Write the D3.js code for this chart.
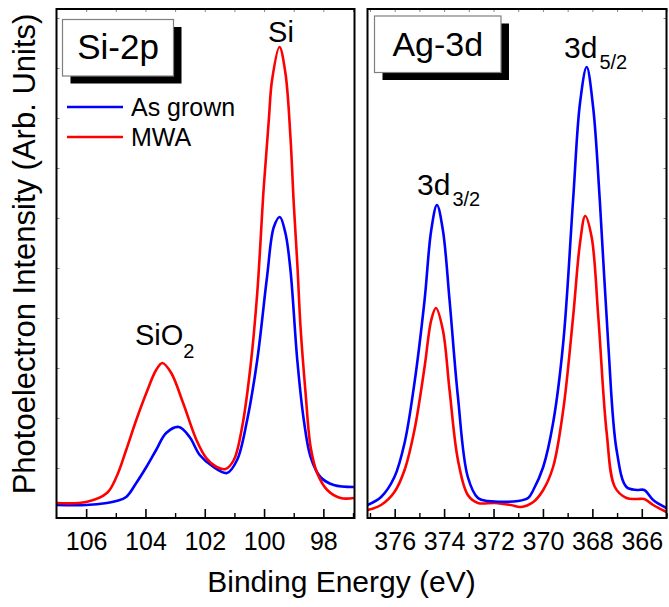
<!DOCTYPE html>
<html>
<head>
<meta charset="utf-8">
<script src="https://cdn.jsdelivr.net/npm/d3@7"></script>
<style>
  body {
    margin: 0;
    background: #fff;
  }
  svg text {
    font-family: "Liberation Sans", Arial, sans-serif;
    fill: #000;
  }
</style>
</head>
<body>
<svg id="chart" width="669" height="607"></svg>
<script>
  // Si-2p region, binding energy (eV) and intensity (arb. units)
  const siEnergyMWA = [107, 106, 105.3, 104.98, 104.65, 104.31, 103.97, 103.64, 103.43, 103.13, 102.73, 102.28,
    101.95, 101.6, 101.3, 101.02, 100.74, 100.46, 100.23, 100.01, 99.84, 99.73, 99.48, 99.28, 99.11, 99.0,
    98.88, 98.77, 98.6, 98.43, 98.21, 97.87, 97.42, 96.97];
  const siMWA = [15, 16, 25, 41, 68, 98, 125, 148, 155, 145, 115, 78,
    60, 51, 49, 58, 91, 151, 225, 331, 398, 438, 471, 445, 381, 315,
    255, 191, 125, 71, 45, 28, 20, 20];

  const siEnergyGrown = [107, 106, 105.3, 104.98, 104.65, 104.31, 103.97, 103.64, 103.3, 102.87, 102.51, 102.17,
    101.75, 101.25, 100.91, 100.57, 100.23, 99.9, 99.67, 99.47, 99.28, 99.11, 98.88, 98.66, 98.43, 98.1,
    97.65, 96.97];
  const siGrown = [13, 13, 15, 17, 21, 35, 51, 68, 85, 91, 81, 63,
    52, 45, 58, 98, 158, 241, 291, 301, 285, 248, 158, 98, 61, 41,
    33, 31];

  // Ag-3d region
  const agEnergyGrown = [377.1, 376.55, 376.01, 375.6, 375.2, 374.79, 374.52, 374.29, 374.05, 373.78, 373.44,
    373.04, 372.63, 372.23, 371.0, 370.6, 370.39, 369.99, 369.59, 369.18, 368.78, 368.5, 368.23, 367.97,
    367.7, 367.36, 367.02, 366.62, 366.2, 365.9, 365.54, 365.0];
  const agGrown = [13, 21, 41, 75, 135, 218, 288, 313, 288, 218, 121,
    41, 20, 17, 17, 20, 28, 51, 95, 175, 318, 415, 451, 411,
    318, 175, 68, 31, 28, 28, 18, 10];

  const agEnergyMWA = [377.1, 376.55, 376.01, 375.6, 375.2, 374.79, 374.52, 374.33, 374.05, 373.78, 373.44,
    373.04, 372.63, 371.96, 371.3, 370.9, 370.39, 369.99, 369.59, 369.18, 368.78, 368.5, 368.29, 368.03,
    367.76, 367.42, 367.09, 366.62, 366.2, 365.9, 365.54, 365.0];
  const agMWA = [8, 13, 26, 48, 88, 151, 198, 210, 188, 128, 58,
    23, 15, 15, 13, 11, 16, 28, 51, 108, 201, 275, 302, 281,
    201, 85, 31, 20, 19, 19, 13, 6];

  const seriesNames = ['As grown', 'MWA'];
  const seriesColors = ['#0000ff', '#ff0000'];

  const siMajorTicks = [106, 104, 102, 100, 98];
  const siMinorTicks = [105, 103, 101, 99, 97];
  const agMajorTicks = [376, 374, 372, 370, 368, 366];
  const agMinorTicks = [377, 375, 373, 371, 369, 367, 365];
  const yTicks = [50, 100, 150, 200, 250, 300, 350, 400, 450, 500];

  const svg = d3.select('#chart');
  const plotTop = 9;
  const plotBottom = 518;

  const y = d3.scaleLinear().domain([0, 509]).range([plotBottom, plotTop]);
  const xSi = d3.scaleLinear().domain([107, 96.95]).range([56.5, 354.5]);
  const xAg = d3.scaleLinear().domain([377.1, 365]).range([367.5, 666.5]);

  function zip(xs, ys) {
    return xs.map((e, i) => ({e: e, v: ys[i]}));
  }

  function drawPanel(id, x, series, major, minor, ySide) {
    const [x0, x1] = x.range();
    const g = svg.append('g').attr('class', 'panel-' + id);

    g.append('clipPath').attr('id', 'clip-' + id)
      .append('rect')
      .attr('x', x0).attr('y', plotTop)
      .attr('width', x1 - x0).attr('height', plotBottom - plotTop);

    //curves
    const line = d3.line()
      .x(d => x(d.e))
      .y(d => y(d.v))
      .curve(d3.curveCatmullRom.alpha(0.5));

    g.append('g').attr('clip-path', 'url(#clip-' + id + ')')
      .selectAll('path')
      .data(series)
      .enter().append('path')
      .attr('d', d => line(d.points))
      .style('fill', 'none')
      .style('stroke', d => d.color)
      .style('stroke-width', 2.6)
      .style('stroke-linejoin', 'round');

    // bottom axis, ticks pointing inward
    const bottomAxis = g.append('g')
      .attr('transform', 'translate(0,' + plotBottom + ')')
      .call(d3.axisBottom(x).tickValues(major).tickSize(-9).tickPadding(14).tickFormat(d3.format('d')));
    bottomAxis.select('.domain').remove();
    bottomAxis.selectAll('line').style('stroke', '#000').style('stroke-width', 1.6);
    bottomAxis.selectAll('text').style('font-size', '25px').attr('font-family', null);

    const minorAxis = g.append('g')
      .attr('transform', 'translate(0,' + plotBottom + ')')
      .call(d3.axisBottom(x).tickValues(minor).tickSize(-5).tickFormat(''));
    minorAxis.select('.domain').remove();
    minorAxis.selectAll('line').style('stroke', '#000').style('stroke-width', 1.4);

    // faint ticks along the top
    const topAxis = g.append('g')
      .attr('transform', 'translate(0,' + plotTop + ')')
      .call(d3.axisTop(x).tickValues(major.concat(minor)).tickSize(-3).tickFormat(''));
    topAxis.select('.domain').remove();
    topAxis.selectAll('line').style('stroke', '#888').style('stroke-width', 1);

    // faint y ticks on the outer side only
    const yAxis = ySide === 'left'
      ? d3.axisLeft(y).tickSize(-3)
      : d3.axisRight(y).tickSize(-3);
    const yg = g.append('g')
      .attr('transform', 'translate(' + (ySide === 'left' ? x0 : x1) + ',0)')
      .call(yAxis.tickValues(yTicks).tickFormat(''));
    yg.select('.domain').remove();
    yg.selectAll('line').style('stroke', '#888').style('stroke-width', 1);

    //frame
    g.append('rect')
      .attr('x', x0).attr('y', plotTop)
      .attr('width', x1 - x0).attr('height', plotBottom - plotTop)
      .style('fill', 'none')
      .style('stroke', '#000')
      .style('stroke-width', 2);

    return g;
  }

  function boxLabel(g, bx, by, bw, bh, label, size) {
    g.append('rect')
      .attr('x', bx + 8).attr('y', by + 7.5)
      .attr('width', bw).attr('height', bh)
      .style('fill', '#000');
    g.append('rect')
      .attr('x', bx).attr('y', by)
      .attr('width', bw).attr('height', bh)
      .style('fill', '#fff')
      .style('stroke', '#7f7f7f')
      .style('stroke-width', 1.2);
    g.append('text')
      .attr('x', bx + bw / 2)
      .attr('y', by + bh - 17)
      .attr('text-anchor', 'middle')
      .style('font-size', size + 'px')
      .text(label);
  }

  const siPanel = drawPanel('si', xSi, [
    {name: seriesNames[0], color: seriesColors[0], points: zip(siEnergyGrown, siGrown)},
    {name: seriesNames[1], color: seriesColors[1], points: zip(siEnergyMWA, siMWA)}
  ], siMajorTicks, siMinorTicks, 'left');

  const agPanel = drawPanel('ag', xAg, [
    {name: seriesNames[1], color: seriesColors[1], points: zip(agEnergyMWA, agMWA)},
    {name: seriesNames[0], color: seriesColors[0], points: zip(agEnergyGrown, agGrown)}
  ], agMajorTicks, agMinorTicks, 'right');

  boxLabel(siPanel, 62.5, 19.5, 111, 56.5, 'Si-2p', 35);
  boxLabel(agPanel, 374.5, 16, 126.5, 56.5, 'Ag-3d', 34);

  // legend
  const legend = siPanel.append('g').attr('class', 'legend');
  seriesNames.forEach((name, i) => {
    const ly = 107 + i * 30;
    legend.append('line')
      .attr('x1', 67).attr('x2', 123)
      .attr('y1', ly).attr('y2', ly)
      .style('stroke', seriesColors[i])
      .style('stroke-width', 2.6);
    legend.append('text')
      .attr('x', 131).attr('y', ly + 8.5)
      .style('font-size', '25px')
      .text(name);
  });

  // peak labels
  siPanel.append('text')
    .attr('x', 281).attr('y', 42)
    .attr('text-anchor', 'middle')
    .style('font-size', '29px')
    .text('Si');

  const sio2 = siPanel.append('text')
    .attr('x', 135).attr('y', 345)
    .style('font-size', '29px');
  sio2.append('tspan').text('SiO');
  sio2.append('tspan').attr('dy', 13).style('font-size', '20px').text('2');

  function orbital(g, px, py, main, sub) {
    const t = g.append('text')
      .attr('x', px).attr('y', py)
      .style('font-size', '30px');
    t.append('tspan').text(main);
    t.append('tspan').attr('dx', 2).attr('dy', 11).style('font-size', '20px').text(sub);
  }
  orbital(agPanel, 417, 195, '3d', '3/2');
  orbital(agPanel, 564, 58, '3d', '5/2');

  // axis titles
  svg.append('text')
    .attr('x', 341.5).attr('y', 592)
    .attr('text-anchor', 'middle')
    .style('font-size', '30px')
    .text('Binding Energy (eV)');

  svg.append('text')
    .attr('transform', 'translate(35,254) rotate(-90)')
    .attr('text-anchor', 'middle')
    .style('font-size', '31px')
    .text('Photoelectron Intensity (Arb. Units)');
</script>
</body>
</html>
